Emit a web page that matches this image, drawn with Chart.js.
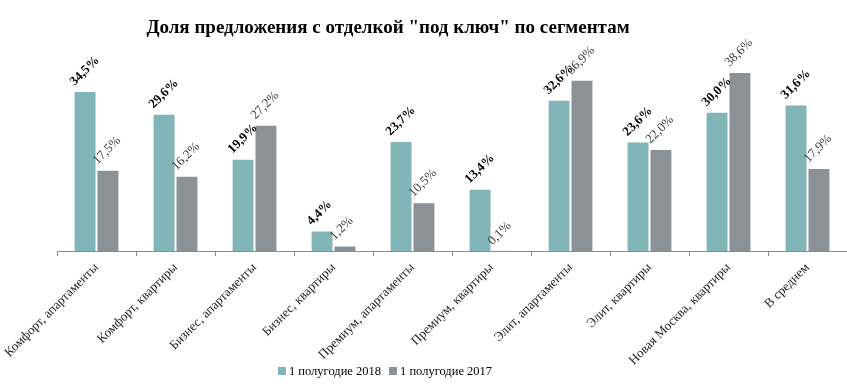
<!DOCTYPE html>
<html>
<head>
<meta charset="utf-8">
<script src="https://cdn.jsdelivr.net/npm/chart.js@4/dist/chart.umd.min.js"></script>
<style>
  html, body { margin: 0; padding: 0; background: #fff; }
  #wrap { width: 847px; height: 390px; }
</style>
</head>
<body>
<div id="wrap"><canvas id="chart" width="847" height="390"></canvas></div>
<script>
const categories = [
  'Комфорт, апартаменты', 'Комфорт, квартиры', 'Бизнес, апартаменты', 'Бизнес, квартиры',
  'Премиум, апартаменты', 'Премиум, квартиры', 'Элит, апартаменты', 'Элит, квартиры',
  'Новая Москва, квартиры', 'В среднем'
];
const share2018 = [34.5, 29.6, 19.9, 4.4, 23.7, 13.4, 32.6, 23.6, 30.0, 31.6];
const share2017 = [17.5, 16.2, 27.2, 1.2, 10.5, 0.1, 36.9, 22.0, 38.6, 17.9];
const seriesNames = ['1 полугодие 2018', '1 полугодие 2017'];

const TEAL = '#81b5b8';
const GREY = '#8b9297';
const SERIF = '"Liberation Serif", "Times New Roman", serif';

const fmt = v => v.toFixed(1).replace('.', ',') + '%';

// rotated value labels above each bar
const valueLabels = {
  id: 'valueLabels',
  afterDatasetsDraw(chart) {
    const ctx = chart.ctx;
    chart.data.datasets.forEach((ds, i) => {
      const meta = chart.getDatasetMeta(i);
      meta.data.forEach((bar, j) => {
        const left = bar.x - bar.width / 2;
        ctx.save();
        ctx.translate(left + 1, bar.y - 5);
        ctx.rotate(-Math.PI / 4);
        ctx.font = (i === 0 ? 'bold ' : '') + '13px ' + SERIF;
        ctx.fillStyle = i === 0 ? '#000' : '#404040';
        ctx.textAlign = 'left';
        ctx.textBaseline = 'alphabetic';
        ctx.fillText(fmt(ds.data[j]), 0, 0);
        ctx.restore();
      });
    });
  }
};

// legend drawn at the bottom, left of centre like the original
const bottomLegend = {
  id: 'bottomLegend',
  afterDraw(chart) {
    const ctx = chart.ctx;
    ctx.save();
    ctx.font = '12.5px ' + SERIF;
    ctx.textBaseline = 'middle';
    const box = 8, gap = 3, itemGap = 8, y = 371;
    const widths = chart.data.datasets.map(ds => box + gap + ctx.measureText(ds.label).width);
    const total = widths.reduce((a, b) => a + b, 0) + itemGap;
    let x = 385 - total / 2;
    chart.data.datasets.forEach((ds, i) => {
      ctx.fillStyle = ds.backgroundColor;
      ctx.fillRect(x, y - box / 2, box, box);
      ctx.fillStyle = '#000';
      ctx.fillText(ds.label, x + box + gap, y + 1);
      x += widths[i] + itemGap;
    });
    ctx.restore();
  }
};

// the title sits left of the canvas centre in the original
const titleShift = {
  id: 'titleShift',
  beforeDraw(chart) {
    const t = chart.titleBlock;
    if (t) {
      const w = t.right - t.left;
      t.left = 388 - w / 2;
      t.right = t.left + w;
    }
  }
};

new Chart(document.getElementById('chart'), {
  type: 'bar',
  data: {
    labels: categories,
    datasets: [
      { label: seriesNames[0], data: share2018, backgroundColor: TEAL, borderColor: 'rgba(255,255,255,0.5)', borderWidth: 1 },
      { label: seriesNames[1], data: share2017, backgroundColor: GREY, borderColor: 'rgba(255,255,255,0.3)', borderWidth: 1 }
    ]
  },
  options: {
    responsive: false,
    animation: false,
    layout: { padding: 0 },
    datasets: { bar: { categoryPercentage: 0.58, barPercentage: 1 } },
    plugins: {
      legend: { display: false },
      tooltip: { enabled: false },
      title: {
        display: true,
        text: 'Доля предложения с отделкой "под ключ" по сегментам',
        font: { family: SERIF, size: 19, weight: 'bold' },
        color: '#000',
        padding: { top: 17, bottom: 9 },
        align: 'center',
        fullSize: true
      }
    },
    scales: {
      x: {
        grid: { display: true, drawOnChartArea: false, drawTicks: true, tickLength: 5, color: '#8c8c8c', offset: true },
        border: { display: true, color: '#8c8c8c', width: 1 },
        ticks: {
          autoSkip: false, minRotation: 45, maxRotation: 45, padding: 4,
          color: '#222', font: { family: SERIF, size: 13 }
        },
        afterFit(scale) {
          scale.height = 139;
          scale.paddingLeft = 57;
          scale.paddingRight = 0;
        }
      },
      y: { display: false, min: 0, max: 43.6 }
    }
  },
  plugins: [valueLabels, bottomLegend, titleShift]
});
</script>
</body>
</html>
